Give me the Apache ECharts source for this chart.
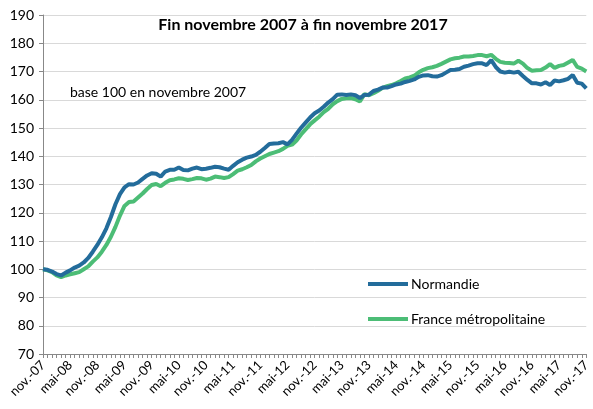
<!DOCTYPE html>
<html>
<head>
<meta charset="utf-8">
<script src="https://cdn.jsdelivr.net/npm/echarts@6/dist/echarts.min.js"></script>
<style>
  html, body { margin: 0; padding: 0; background: #fff; }
  #chart { width: 593px; height: 409px; }
</style>
</head>
<body>
<div id="chart"></div>
<script>
// mois de nov. 2007 à nov. 2017
const moisNoms = ['janv.', 'févr.', 'mars', 'avr.', 'mai', 'juin', 'juil.', 'août', 'sept.', 'oct.', 'nov.', 'déc.'];
const categories = [];
for (let i = 0; i <= 120; i++) {
  const m = (10 + i) % 12;
  const y = 7 + Math.floor((10 + i) / 12);
  categories.push(moisNoms[m] + '-' + String(y).padStart(2, '0'));
}

const normandie = [
  100.0, 99.8, 99.2, 98.3, 97.8, 98.8, 99.6, 100.6, 101.3, 102.4,
  104.0, 106.2, 108.6, 111.3, 114.5, 118.5, 123.0, 126.6, 129.0, 130.1,
  130.0, 130.7, 132.0, 133.2, 134.0, 133.8, 132.8, 134.6, 135.2, 135.2,
  136.0, 135.1, 135.0, 135.6, 136.0, 135.4, 135.6, 135.9, 136.3, 136.1,
  135.6, 135.2, 136.6, 137.9, 138.8, 139.5, 139.9, 140.5, 141.6, 142.9,
  144.3, 144.5, 144.6, 145.0, 144.2, 145.8, 148.0, 150.1, 151.9, 153.7,
  155.2, 156.2, 157.5, 159.0, 160.2, 161.8, 161.9, 161.7, 161.9, 161.6,
  160.6, 161.7, 161.8, 163.1, 163.6, 164.3, 164.3, 164.8, 165.4, 165.7,
  166.3, 166.7, 167.2, 168.1, 168.6, 168.7, 168.3, 168.2, 168.7, 169.6,
  170.5, 170.6, 170.9, 171.7, 172.1, 172.6, 172.9, 172.9, 172.3, 174.0,
  171.6, 170.0, 169.6, 169.9, 169.6, 169.9, 168.4, 167.0, 165.8, 165.8,
  165.4, 166.2, 165.2, 166.8, 166.5, 166.9, 167.4, 168.8, 166.0, 165.7,
  164.0
];

const france = [
  100.0, 99.6, 99.0, 97.8, 97.2, 97.8, 98.2, 98.6, 99.0, 100.0,
  101.0, 102.7, 104.2, 106.2, 108.6, 111.5, 115.0, 119.0, 122.4, 123.8,
  124.0, 125.4, 126.8, 128.4, 129.8, 130.2, 129.4, 130.6, 131.5, 131.8,
  132.2, 132.0, 131.6, 131.9, 132.3, 132.2, 131.7, 132.1, 132.8, 132.6,
  132.3, 132.6, 133.7, 134.9, 135.4, 136.1, 136.9, 138.2, 139.2, 140.0,
  140.8, 141.3, 141.8, 142.6, 143.7, 144.1, 145.6, 147.7, 149.5, 151.3,
  152.7, 154.0, 155.6, 156.8, 158.4, 159.5, 160.3, 160.5, 160.6, 160.2,
  159.4, 162.0, 161.6, 162.3, 163.2, 164.2, 164.8, 165.2, 165.8, 166.6,
  167.5, 167.9, 168.5, 169.7, 170.6, 171.2, 171.5, 172.0, 172.7, 173.5,
  174.3, 174.7, 174.9, 175.3, 175.3, 175.5, 175.8, 175.8, 175.4, 175.9,
  174.5, 173.4, 173.1, 173.0, 172.8, 173.8, 172.8, 171.2, 170.3, 170.4,
  170.5, 171.4, 172.6, 171.3, 172.0, 172.3, 173.2, 174.1, 171.6, 171.0,
  170.0
];

const yTicks = [70, 80, 90, 100, 110, 120, 130, 140, 150, 160, 170, 180, 190];

const fontFam = 'Lato, "Noto Sans", sans-serif';
const bleu = '#236c9b';
const vert = '#4cbd76';

const myChart = echarts.init(document.getElementById('chart'));

const option = {
  backgroundColor: '#ffffff',
  animation: false,
  textStyle: { fontFamily: fontFam, color: '#000' },
  title: [
    {
      text: 'Fin novembre 2007 à fin novembre 2017',
      left: 298,
      textAlign: 'center',
      top: 12,
      textStyle: { fontFamily: fontFam, fontSize: 16, fontWeight: 'bold', color: '#000' }
    },
    {
      text: 'base 100 en novembre 2007',
      left: 65,
      top: 80,
      textStyle: { fontFamily: fontFam, fontSize: 14, fontWeight: 'normal', color: '#000' }
    }
  ],
  legend: {
    orient: 'vertical',
    left: 363,
    top: 272,
    itemWidth: 40,
    itemHeight: 4,
    itemGap: 21,
    icon: 'rect',
    textStyle: { fontFamily: fontFam, fontSize: 14, color: '#000', padding: [0, 0, 0, -2] },
    data: ['Normandie', 'France métropolitaine']
  },
  grid: {
    left: 43,
    right: 1,
    top: 15,
    bottom: 55,
    containLabel: false
  },
  xAxis: {
    type: 'category',
    data: categories,
    boundaryGap: false,
    axisLine: { lineStyle: { color: '#888', width: 1 } },
    axisTick: { show: true, interval: 0, length: 4, lineStyle: { color: '#888' } },
    axisLabel: {
      interval: 5,
      rotate: 45,
      margin: 9,
      fontFamily: fontFam,
      fontSize: 13,
      color: '#000'
    },
    splitLine: { show: false }
  },
  yAxis: {
    type: 'value',
    min: yTicks[0],
    max: yTicks[yTicks.length - 1],
    interval: 10,
    axisLine: { show: true, lineStyle: { color: '#888' } },
    axisTick: { show: true, length: 4, lineStyle: { color: '#888' } },
    axisLabel: { fontFamily: fontFam, fontSize: 14, color: '#000', margin: 9 },
    splitLine: { lineStyle: { color: '#d9d9d9', width: 1 } }
  },
  series: [
    {
      name: 'Normandie',
      type: 'line',
      data: normandie,
      showSymbol: false,
      itemStyle: { color: bleu },
      lineStyle: { color: bleu, width: 4 },
      z: 3
    },
    {
      name: 'France métropolitaine',
      type: 'line',
      data: france,
      showSymbol: false,
      itemStyle: { color: vert },
      lineStyle: { color: vert, width: 4 },
      z: 2
    }
  ]
};

myChart.setOption(option);
</script>
</body>
</html>
